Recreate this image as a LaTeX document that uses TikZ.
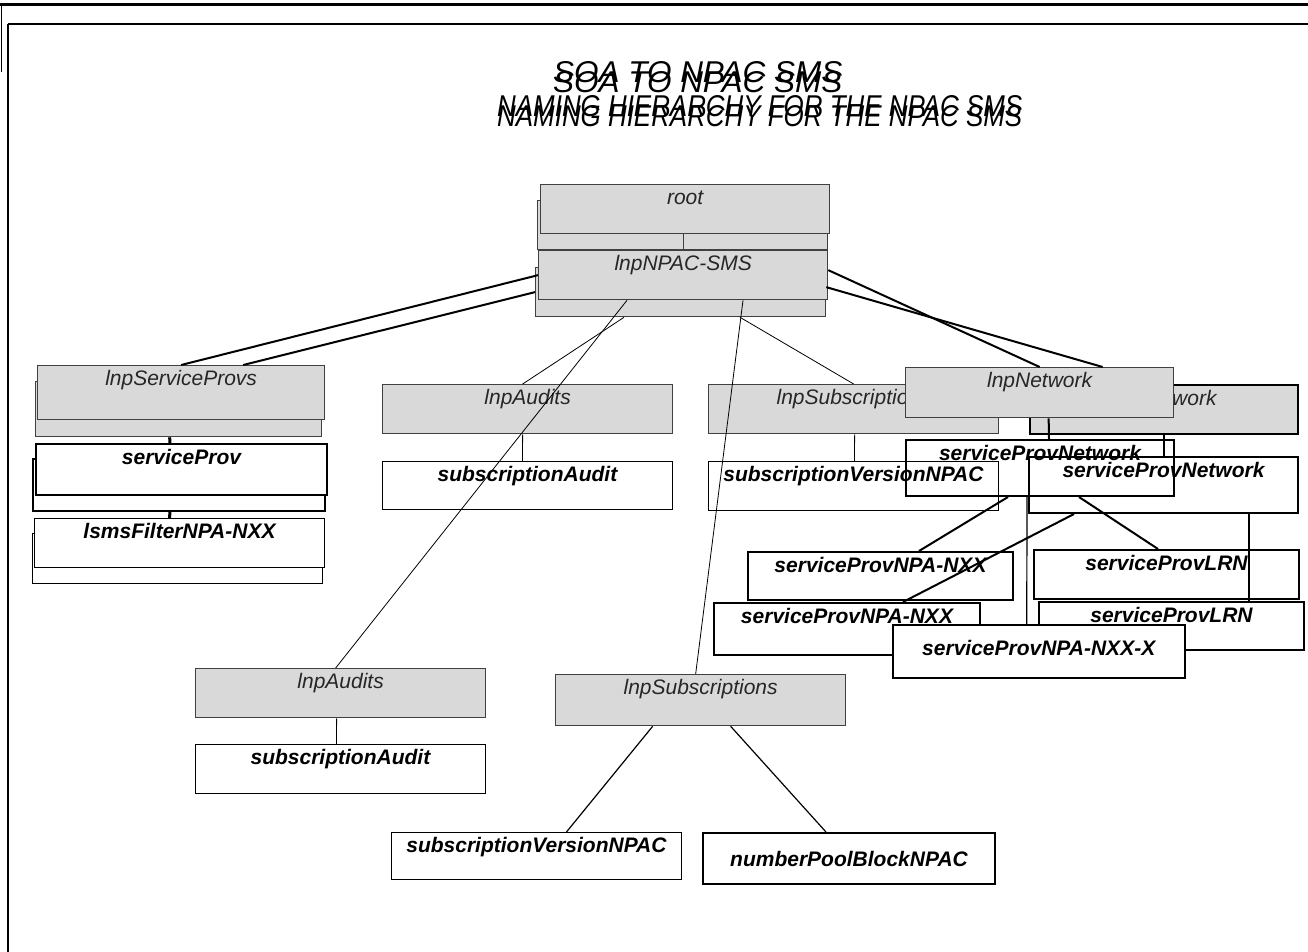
\documentclass[tikz,border=0pt]{standalone}
\usepackage{fontspec}
\setmainfont{Liberation Sans}
\usepackage{graphicx}
\usetikzlibrary{calc}

\definecolor{boxfill}{RGB}{217,217,217}
\definecolor{boxline}{RGB}{64,64,64}
\newcommand{\lblfont}{\fontsize{21pt}{25pt}\selectfont}
\tikzset{
  obj/.style={rectangle, anchor=north west, inner sep=0pt, minimum width=290pt,
    text height=20pt, text depth=29pt},
  classbox/.style={obj, draw=boxline, fill=boxfill, line width=1.3pt,
    text=black!85, font=\lblfont\itshape},
  namebox/.style={obj, draw=black, line width=#1, font=\lblfont\bfseries\itshape},
  namebox/.default=2pt,
  conn/.style={line width=#1},
  conn/.default=0.8pt,
  ttl/.style={inner sep=0pt, anchor=base west, font=\itshape}
}

\begin{document}
\begin{tikzpicture}[x=1pt,y=-1pt]
  \useasboundingbox (0,0) rectangle (1308,952);
  \draw[line width=3pt] (0,5) -- (1308,5);
  \draw[line width=1.5pt] (8,24) -- (1308,24);
  \draw[line width=2pt] (8,24) -- (8,952);
  \draw[line width=1pt] (1,5) -- (1,72);

  \node[ttl] (soa) at (553,93) {\resizebox{289pt}{21pt}{SOA TO NPAC SMS}};
  \node[ttl] (soatop) at (553,83) {\resizebox{289pt}{21pt}{SOA TO NPAC SMS}};
  \node[ttl] (naming) at (497,127) {\resizebox{525pt}{21pt}{NAMING HIERARCHY FOR THE NPAC SMS}};
  \node[ttl] (namingtop) at (497,117) {\resizebox{525pt}{21pt}{NAMING HIERARCHY FOR THE NPAC SMS}};

  \node[classbox] (rootb) at (537,200) {};
  \node[classbox, minimum width=289pt] (root) at (540,184) {root};
  \node[classbox] (npacb) at (535,267) {};
  \node[classbox, minimum width=289pt] (npac) at (538,250) {lnpNPAC-SMS};

  \node[classbox, minimum width=286pt, text depth=35pt] (provsb) at (35,381) {};
  \node[classbox, minimum width=287pt, text depth=34pt] (provs) at (37,365) {lnpServiceProvs};
  \node[namebox, minimum width=292pt, text depth=32pt] (servprovb) at (32,458) {};
  \node[namebox, fill=white, minimum width=291pt, text depth=31pt] (servprov) at (35,443) {serviceProv};
  \node[namebox=1pt, text depth=30pt] (lsmsb) at (32,533) {};
  \node[namebox=1pt, fill=white] (lsms) at (34,518) {lsmsFilterNPA-NXX};

  \node[classbox] (audup) at (382,384) {lnpAudits};
  \node[namebox=0.9pt, text depth=28pt] (subaudup) at (382,461) {subscriptionAudit};

  \node[classbox] (subsup) at (708,384) {lnpSubscriptions};
  \node[classbox, draw=black, line width=2pt, minimum width=268pt] (netb) at (1029,384) {lnpNetwork};
  \node[classbox, minimum width=268pt, text depth=30pt] (net) at (905,367) {lnpNetwork};

  \node[namebox, minimum width=268pt, text depth=36pt] (spna) at (905,439) {serviceProvNetwork};
  \node[namebox, minimum width=269pt, text depth=36pt] (spnb) at (1028,456) {serviceProvNetwork};
  \node[namebox=0.9pt] (subverup) at (708,461) {subscriptionVersionNPAC};

  \node[namebox, minimum width=265pt, text depth=28pt] (npanxxup) at (747,551) {serviceProvNPA-NXX};
  \node[namebox, minimum width=265pt] (lrnup) at (1033,549) {serviceProvLRN};
  \node[namebox, minimum width=266pt, text depth=32pt] (npanxxlo) at (713,602) {serviceProvNPA-NXX};
  \node[namebox, minimum width=265pt, text depth=28pt] (lrnlo) at (1038,601) {serviceProvLRN};
  \node[namebox=1.5pt, fill=white, minimum width=292pt, text height=31pt, text depth=22pt] (nxxx) at (892,624) {serviceProvNPA-NXX-X};

  \node[classbox] (audlow) at (195,668) {lnpAudits};
  \node[namebox=0.9pt] (subaudlow) at (195,744) {subscriptionAudit};
  \node[classbox, text depth=31pt] (subslow) at (555,674) {lnpSubscriptions};
  \node[namebox=0.9pt, text depth=27pt] (subverlo) at (391,832) {subscriptionVersionNPAC};
  \node[namebox, minimum width=292pt, text height=33pt, text depth=18pt] (npb) at (702,832) {numberPoolBlockNPAC};

  \draw[conn=0.8pt, boxline] ([xshift=-1.5pt]root.south) -- ([xshift=0.5pt]npac.north);
  \draw[conn=2pt] (npac.west) -- (provs.north);
  \draw[conn=2pt] (npacb.west) -- ([xshift=62pt]provs.north);
  \draw[conn=2pt] ([yshift=5pt]npac.east) -- (net.north);
  \draw[conn=2pt] ([yshift=5pt]npacb.east) -- ([xshift=63pt]net.north);

  \draw[conn] ([xshift=89pt]npac.south west) -- ([xshift=-5pt]audlow.north);
  \draw[conn] ([xshift=89pt]npacb.south west) -- ([xshift=-5pt]audup.north);
  \draw[conn] ([xshift=205pt]npac.south west) -- ([xshift=-5pt]subslow.north);
  \draw[conn] ([xshift=205pt]npacb.south west) -- (subsup.north);

  \foreach \a/\sa/\b/\sb in {provsb/-9/servprov/-11.5, servprovb/-9/lsms/-10}
    \draw[conn=3pt] ([xshift=\sa pt]\a.south) -- ([xshift=\sb pt]\b.north);
  \foreach \a/\sa/\b/\sb in {audup/-5/subaudup/-5, subsup/1/subverup/1, audlow/-4/subaudlow/-4}
    \draw[conn] ([xshift=\sa pt]\a.south) -- ([xshift=\sb pt]\b.north);
  \foreach \a/\sa/\b/\sb in {net/9/spna/9, netb/0/spnb/0.5,
      spna/-32/npanxxup/38.5, spna/39/lrnup/-8.5, spnb/-89.5/npanxxlo/56}
    \draw[conn=2pt] ([xshift=\sa pt]\a.south) -- ([xshift=\sb pt]\b.north);
  \draw[conn=1.2pt] ([xshift=-13pt]spna.south) -- ([xshift=-12pt]nxxx.north);
  \draw[conn=1.5pt] ([xshift=85.5pt]spnb.south) -- ([xshift=77.5pt]lrnlo.north);
  \foreach \a/\sa/\b/\sb in {subslow/-48/subverlo/30, subslow/30/npb/-23}
    \draw[conn=1.2pt] ([xshift=\sa pt]\a.south) -- ([xshift=\sb pt]\b.north);
\end{tikzpicture}
\end{document}
